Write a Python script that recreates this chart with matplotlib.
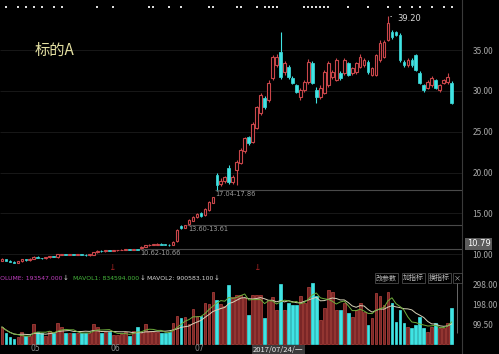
import numpy as np
import pandas as pd
import matplotlib
matplotlib.use("Agg")
from matplotlib import pyplot as plt

plt.rcParams['font.family'] = ['Noto Sans CJK SC', 'DejaVu Sans']

W, H = 499, 354

# daily candles, 2017-04 .. 2017-09
opens = [9.20, 9.35, 9.20, 9.05, 8.95, 9.10, 9.35, 9.25, 9.40, 9.65,
         9.50, 9.45, 9.60, 9.75, 9.60, 9.90, 10.00, 9.90, 9.95, 9.90,
         9.95, 9.90, 9.85, 9.90, 10.20, 10.40, 10.35, 10.45, 10.40, 10.45,
         10.50, 10.52, 10.58, 10.50, 10.60, 10.70, 10.85, 11.05, 11.10, 11.15,
         11.25, 11.20, 11.15, 11.10, 11.60, 13.40, 13.25, 13.70, 14.10, 14.50,
         15.00, 14.80, 15.40, 16.30, 19.70, 18.60, 18.90, 20.60, 18.80, 20.30,
         21.20, 22.60, 24.30, 23.80,
         25.50, 27.30, 29.10, 28.90, 31.60, 33.20, 34.80, 32.30, 32.90, 31.60,
         30.70, 29.30, 30.10, 31.10, 33.40, 30.10, 29.30, 29.80, 30.70, 31.70,
         31.40, 32.20, 32.20, 33.40, 32.20, 32.30, 33.00, 33.20, 33.60, 32.00,
         32.00, 33.80, 34.20, 36.30, 37.20, 37.20, 36.90, 33.60, 33.20, 33.80,
         34.40, 32.20, 30.70, 30.40, 30.70, 31.30, 30.10, 31.00, 31.10, 31.00]
closes = [9.40, 9.20, 9.05, 8.95, 9.15, 9.35, 9.25, 9.40, 9.65, 9.50,
          9.45, 9.60, 9.75, 9.65, 9.95, 10.00, 9.90, 9.95, 9.90, 9.95,
          9.90, 9.85, 9.95, 10.25, 10.40, 10.35, 10.45, 10.40, 10.45, 10.50,
          10.55, 10.58, 10.52, 10.58, 10.50, 10.90, 11.10, 11.15, 11.20, 11.25,
          11.15, 11.10, 11.10, 11.50, 13.00, 13.20, 13.50, 14.20, 14.60, 14.90,
          14.70, 15.50, 16.40, 17.00, 18.50, 19.00, 19.40, 18.80, 19.50, 21.30,
          22.80, 24.20, 23.60, 26.00,
          28.00, 29.50, 28.00, 31.00, 34.20, 34.20, 31.70, 33.40, 31.70, 31.00,
          29.90, 30.10, 31.10, 33.60, 31.00, 29.30, 30.40, 32.30, 33.40, 32.30,
          33.80, 31.60, 33.80, 32.00, 32.80, 33.40, 34.20, 33.80, 32.30, 32.80,
          34.40, 35.90, 36.00, 38.30, 36.60, 36.90, 33.80, 33.20, 33.80, 33.20,
          32.60, 31.00, 30.10, 31.10, 31.60, 30.40, 30.70, 31.30, 31.70, 28.50]
highs = [9.50, 9.40, 9.25, 9.10, 9.20, 9.40, 9.40, 9.45, 9.70, 9.70,
         9.55, 9.65, 9.80, 9.80, 10.00, 10.05, 10.05, 10.00, 10.00, 10.00,
         10.00, 9.95, 10.00, 10.30, 10.45, 10.45, 10.50, 10.50, 10.50, 10.55,
         10.58, 10.60, 10.60, 10.60, 10.62, 10.95, 11.15, 11.20, 11.25, 11.30,
         11.30, 11.25, 11.20, 11.55, 13.10, 13.50, 13.60, 14.30, 14.70, 15.00,
         15.10, 15.60, 16.50, 17.04, 19.90, 19.30, 19.60, 20.90, 19.70, 21.50,
         23.00, 24.40, 24.50, 26.20,
         28.20, 29.80, 29.40, 31.30, 34.40, 34.60, 37.20, 33.70, 33.20, 31.80,
         30.90, 30.40, 31.40, 33.90, 33.70, 30.50, 30.70, 32.60, 33.70, 32.60,
         34.10, 32.50, 34.00, 33.60, 33.00, 33.60, 34.50, 34.00, 33.80, 33.00,
         34.60, 36.20, 36.30, 39.20, 37.50, 37.40, 37.10, 33.80, 34.00, 34.00,
         34.60, 32.40, 30.90, 31.30, 31.80, 31.50, 30.90, 31.50, 32.20, 31.20]
lows = [9.15, 9.10, 9.00, 8.85, 8.90, 9.05, 9.20, 9.20, 9.35, 9.45,
        9.40, 9.40, 9.55, 9.60, 9.55, 9.85, 9.85, 9.85, 9.85, 9.85,
        9.85, 9.80, 9.80, 9.85, 10.15, 10.30, 10.30, 10.35, 10.35, 10.40,
        10.45, 10.48, 10.48, 10.45, 10.45, 10.66, 10.80, 11.00, 11.05, 11.10,
        11.10, 11.05, 11.00, 11.05, 11.50, 13.10, 13.15, 13.61, 14.00, 14.40,
        14.60, 14.70, 15.30, 16.20, 17.86, 18.40, 18.70, 18.60, 18.60, 18.50,
        21.00, 22.40, 23.40, 23.60,
        25.30, 27.00, 27.80, 28.60, 31.40, 33.00, 31.50, 32.00, 31.50, 30.80,
        29.70, 28.90, 29.90, 30.90, 30.80, 28.50, 29.00, 29.60, 30.50, 31.50,
        31.20, 31.40, 32.00, 31.80, 32.00, 32.10, 32.80, 33.00, 32.10, 31.80,
        31.80, 33.60, 34.00, 36.10, 36.40, 36.70, 33.60, 33.00, 33.00, 33.00,
        32.40, 30.80, 29.90, 30.20, 30.50, 30.20, 29.90, 30.80, 30.90, 28.40]
# volume (x10k)
volumes = [85, 55, 35, 25, 35, 60, 40, 40, 100, 60,
           55, 40, 65, 55, 105, 85, 55, 55, 55, 55,
           55, 55, 55, 100, 85, 55, 60, 60, 45, 45,
           50, 60, 40, 65, 85, 55, 100, 65, 60, 60,
           55, 55, 60, 105, 140, 130, 135, 100, 175, 140,
           140, 205, 200, 260, 220, 200, 190, 295, 235, 245,
           245, 230, 145, 245,
           245, 245, 130, 220, 235, 170, 300, 170, 205, 195,
           195, 240, 205, 285, 305, 240, 120, 180, 270, 260,
           170, 170, 205, 155, 135, 170, 205, 160, 95, 130,
           255, 240, 195, 260, 205, 110, 170, 105, 85, 80,
           95, 135, 80, 60, 85, 105, 80, 80, 105, 180]

price_ticks = [10, 15, 20, 25, 30, 35]
vol_ticks = [99.5, 198.0, 298.0]
gap_lows = [10.62, 13.60, 17.04]
gap_highs = [10.66, 13.61, 17.86]
gap_start = [34.5, 46.5, 53.5]
event_idx = [1, 4, 6, 8, 10, 13, 15, 24, 28, 37, 38, 42, 45, 52, 53, 59, 60,
             64, 66, 67, 68, 69, 76, 77, 78, 79, 80, 81, 82, 87, 92, 97, 100,
             103, 105, 108, 111, 113]
month_labels = ['05', '06', '07']
month_pos = [8.5, 28.4, 49.7]
signal_idx = [27.9, 64.3]
vol_legend = ['VOLUME: 193547.000', 'MAVOL1: 834594.000', 'MAVOL2: 900583.100']
vol_legend_colors = ['#c23fc2', '#46b83c', '#d8d8d8']
vol_legend_x = [-4, 73, 147]
buttons = ['改参数', '加指标', '换指标', '×']
buttons_x = [376, 403, 429, 454]

RED = '#c9464a'
TEAL = '#40e4e4'
BG = 'black'


def fx(x):
    return x / W


def fy(y):
    return 1 - y / H


def main():
    o = np.array(opens)
    c = np.array(closes)
    hi = np.array(highs)
    lo = np.array(lows)
    vol = np.array(volumes, dtype=float)
    idx = np.arange(len(c))
    up = c >= o
    body_lo = np.minimum(o, c)
    body_hi = np.maximum(o, c)
    colors = np.where(up, RED, TEAL)

    fig = plt.figure(figsize=(W / 100, H / 100), dpi=100, facecolor=BG)
    ax = fig.add_axes([0, fy(270), 462 / W, 270 / H], facecolor=BG)
    vax = fig.add_axes([0, 0, 462 / W, 84 / H], facecolor=BG)
    xmax = 115.6
    for a in (ax, vax):
        a.set_xlim(-0.5, xmax)
        a.set_xticks([])
        for s in ('top', 'left', 'bottom'):
            a.spines[s].set_visible(False)
        a.spines['right'].set_color('#3a3a3a')
        a.spines['right'].set_linewidth(0.8)
        a.yaxis.tick_right()
        a.tick_params(axis='y', length=0, pad=7.5, labelsize=6, labelcolor='#a8a8a8')

    # price pane
    ax.set_ylim(10 - 16 / 8.15, 10 + 254 / 8.15)
    ax.hlines(price_ticks, -0.5, xmax, color='#1c1c1c', lw=0.6, zorder=0)
    for glo, ghi, gs in zip(gap_lows, gap_highs, gap_start):
        ax.hlines(ghi, gs, xmax, color='#4a4a4a', lw=0.8, zorder=1)
        ax.text(gs + 0.2, ghi - 0.15, f'{glo:.2f}-{ghi:.2f}', color='#9c9c9c',
                fontsize=4.8, va='top', ha='left', family='DejaVu Sans')
    ax.set_yticks(price_ticks)
    ax.set_yticklabels([f'{t:.2f}' for t in price_ticks])

    ax.vlines(idx, lo, body_lo, color=colors, lw=0.8, zorder=2)
    ax.vlines(idx, body_hi, hi, color=colors, lw=0.8, zorder=2)
    ax.bar(idx[up], (body_hi - body_lo)[up], bottom=body_lo[up], width=0.68,
           facecolor=BG, edgecolor=RED, linewidth=0.8, zorder=3)
    ax.bar(idx[~up], (body_hi - body_lo)[~up], bottom=body_lo[~up], width=0.68,
           facecolor=TEAL, edgecolor=TEAL, linewidth=0.5, zorder=3)

    ax.annotate('39.20', xy=(97, 39.2), xytext=(99.3, 38.85), color='#d8d8d8',
                fontsize=6, va='center', family='DejaVu Sans',
                arrowprops=dict(arrowstyle='-', color='#d8d8d8', lw=0.6))
    ax.scatter(event_idx, [40.3] * len(event_idx), marker='s', s=2.5,
               color='#dcdcdc', linewidths=0, zorder=4)
    for si in signal_idx:
        ax.text(si, 8.3, '↓', color='#e03030', fontsize=5.5, ha='center', va='center')

    fig.text(fx(35), fy(50), '标的A', color='#e4e0a2', fontsize=11, va='center')
    fig.text(fx(467), fy(244), '10.79', color='white', fontsize=6, va='center',
             family='DejaVu Sans',
             bbox=dict(facecolor='#5c5c5c', edgecolor='none', pad=1.2))

    # volume pane
    vax.set_ylim(-50, 370)
    vcol_face = np.where(up, '#7a2626', TEAL)
    vcol_edge = np.where(up, '#b8443f', TEAL)
    vax.bar(idx, vol, width=0.7, color=vcol_face, edgecolor=vcol_edge,
            linewidth=0.5, zorder=2)
    ma1 = pd.Series(vol).rolling(5, min_periods=1).mean()
    ma2 = pd.Series(vol).rolling(10, min_periods=1).mean()
    vax.plot(idx, ma2, color='#d8d2b8', lw=0.7, zorder=3)
    vax.plot(idx, ma1, color='#6fae3c', lw=0.7, zorder=3)
    vax.set_yticks(vol_ticks)
    vax.set_yticklabels([f'{t:.2f}' for t in vol_ticks])
    vax.vlines(114.3, 55, 310, color='#7a7a7a', lw=0.6)
    for lab, pos in zip(month_labels, month_pos):
        vax.text(pos, -22, lab, color='#8c8c8c', fontsize=5.5, ha='center',
                 va='center', family='DejaVu Sans')

    ty = fy(278)
    for lab, col, lx in zip(vol_legend, vol_legend_colors, vol_legend_x):
        fig.text(fx(lx), ty, lab, color=col, fontsize=4.4, va='center',
                 family='DejaVu Sans')
        fig.text(fx(lx + 67), ty, '↓', color='#d8d8d8', fontsize=5, va='center',
                 family='DejaVu Sans')
    for lab, bx in zip(buttons, buttons_x):
        fig.text(fx(bx), ty, lab, color='#bdbdbd', fontsize=5, va='center',
                 bbox=dict(facecolor=BG, edgecolor='#5a5a5a', lw=0.5, pad=0.8))
    fig.text(fx(253), fy(350), '2017/07/24/一', color='#e8e8e8', fontsize=5.5,
             va='center', bbox=dict(facecolor='#3a3a3a', edgecolor='none', pad=0.8))

    fig.savefig('out.png', dpi=100, facecolor=BG)


if __name__ == "__main__":
    main()
